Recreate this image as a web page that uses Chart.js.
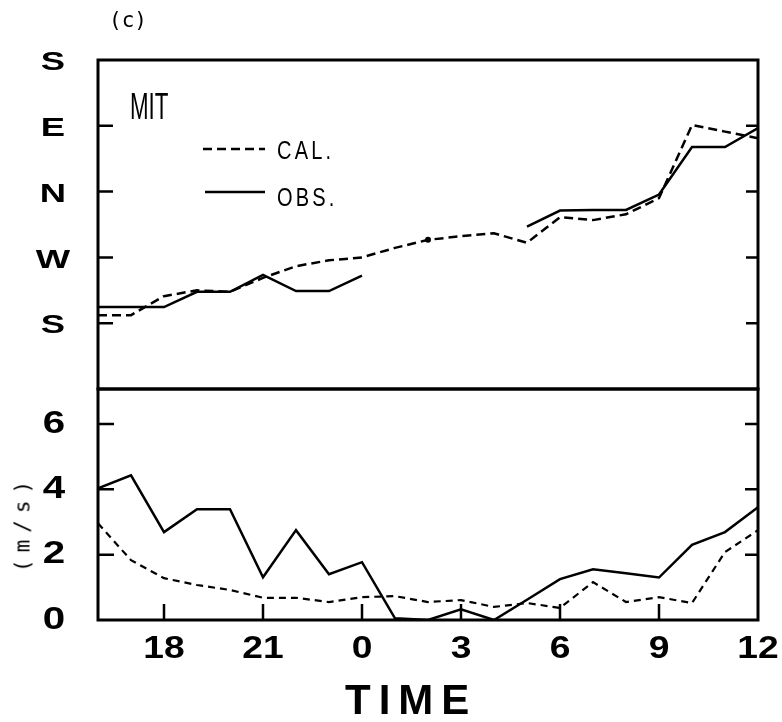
<!DOCTYPE html>
<html>
<head>
<meta charset="utf-8">
<script src="https://cdn.jsdelivr.net/npm/chart.js@4.4.1/dist/chart.umd.min.js"></script>
<style>
  body { margin: 0; background: #fff; }
  #wrap { position: relative; width: 782px; height: 722px; overflow: hidden; color: #000;
          font-family: "Liberation Sans", Arial, sans-serif; }
  canvas { position: absolute; left: 0; }
  .txt { position: absolute; white-space: nowrap; line-height: 1; }
  .mono { font-family: "DejaVu Sans Mono", "Liberation Mono", monospace; font-size: 21px; }
</style>
</head>
<body>
<div id="wrap">
  <canvas id="dirChart" width="782" height="395" style="top:0"></canvas>
  <canvas id="spdChart" width="782" height="342" style="top:380px"></canvas>

  <div class="txt mono" style="left:109px; top:10px;">(c)</div>
  <div class="txt" style="left:130px; top:89px; font-size:36px; transform:scaleX(0.62); transform-origin:0 0;">MIT</div>

  <svg style="position:absolute; left:0; top:0" width="300" height="220">
    <line x1="203" y1="149" x2="265" y2="149" stroke="#000" stroke-width="2.5" stroke-dasharray="9 5"/>
    <line x1="205" y1="192" x2="265" y2="192" stroke="#000" stroke-width="2.5"/>
  </svg>
  <div class="txt" style="left:277px; top:138px; font-size:25px; letter-spacing:4px; transform:scaleX(0.8); transform-origin:0 0;">CAL.</div>
  <div class="txt" style="left:277px; top:185px; font-size:25px; letter-spacing:4px; transform:scaleX(0.8); transform-origin:0 0;">OBS.</div>

  <div class="txt mono" style="left:23px; top:523px; letter-spacing:7px;
       transform:translate(-50%,-50%) rotate(-90deg);">(m/s)</div>
  <div class="txt" style="left:345px; top:679px; font-size:42px; font-weight:bold; letter-spacing:8px;">TIME</div>
</div>

<script>
// hours counted from 16 h of the first day, 24 = 0 h, 36 = 12 h next day
const hours = [16, 17, 18, 19, 20, 21, 22, 23, 24, 25, 26, 27, 28, 29, 30, 31, 32, 33, 34, 35, 36];

// wind direction in degrees (180 = S, 270 = W, 360 = N, 450 = E, 540 = S)
const calDir = [191, 191, 217, 225, 223, 242, 258, 266, 270, 283, 294, 299, 303, 290, 325, 321, 329, 351, 451, 442, 433];
const obsDir = [202, 202, 202, 223, 223, 246, 224, 224, 245, null, null, null, null, 312, 334, 335, 335, 356, 421, 421, 447];

// wind speed m/s
const calSpeed = [2.96, 1.83, 1.28, 1.07, 0.92, 0.68, 0.68, 0.55, 0.70, 0.73, 0.55, 0.61, 0.40, 0.52, 0.37, 1.16, 0.55, 0.70, 0.52, 2.08, 2.75];
const obsSpeed = [4.03, 4.43, 2.69, 3.39, 3.39, 1.31, 2.75, 1.40, 1.77, 0.05, 0, 0.33, 0, 0.62, 1.25, 1.55, 1.43, 1.30, 2.30, 2.69, 3.45];

const timeTicks = [18, 21, 24, 27, 30, 33, 36];
const dirTicks = [180, 270, 360, 450, 540];
const dirLabels = ["S", "W", "N", "E", "S"];
const speedTicks = [0, 2, 4, 6];

function toPoints(values) {
  return hours.map((h, i) => ({ x: h, y: values[i] }));
}

// box round the plot and the short inward tick marks
const frame = {
  id: "frame",
  afterDatasetsDraw(chart, args, opts) {
    const ctx = chart.ctx;
    const a = chart.chartArea;
    ctx.save();
    ctx.strokeStyle = "#000";
    ctx.lineWidth = 3;
    ctx.strokeRect(a.left, a.top, a.right - a.left, a.bottom - a.top);
    ctx.lineWidth = 2.5;
    ctx.beginPath();
    (opts.yTicks || []).forEach((v) => {
      const y = chart.scales.y.getPixelForValue(v);
      ctx.moveTo(a.left, y);
      ctx.lineTo(a.left + opts.len, y);
      ctx.moveTo(a.right, y);
      ctx.lineTo(a.right - opts.len + 3, y);
    });
    (opts.xTicks || []).forEach((v) => {
      const x = chart.scales.x.getPixelForValue(v);
      ctx.moveTo(x, a.bottom);
      ctx.lineTo(x, a.bottom - opts.len);
    });
    ctx.stroke();
    ctx.restore();
  },
};

// tick labels, drawn wide like the old plotter lettering
const wideLabels = {
  id: "wideLabels",
  afterDraw(chart, args, opts) {
    const ctx = chart.ctx;
    const a = chart.chartArea;
    (opts.items || []).forEach((item) => {
      const scale = chart.scales[item.axis];
      ctx.save();
      ctx.font = item.font;
      ctx.fillStyle = "#000";
      ctx.textAlign = "center";
      ctx.textBaseline = "middle";
      item.values.forEach((v, i) => {
        const p = scale.getPixelForValue(v);
        const x = scale.isHorizontal() ? p : a.left - item.offset;
        const y = scale.isHorizontal() ? a.bottom + item.offset : p + item.shift;
        ctx.save();
        ctx.translate(x, y);
        ctx.scale(item.stretch, 1);
        ctx.fillText(item.text(v, i), 0, 0);
        ctx.restore();
      });
      ctx.restore();
    });
  },
};

Chart.defaults.font.family = "'Liberation Sans', Arial, sans-serif";

new Chart("dirChart", {
  type: "line",
  data: {
    datasets: [
      {
        label: "CAL.",
        data: toPoints(calDir),
        borderColor: "#000",
        borderWidth: 2.5,
        borderDash: [9, 5],
        pointRadius: (c) => (c.dataIndex === 10 ? 3 : 0),
        pointBackgroundColor: "#000",
        pointBorderWidth: 0,
        tension: 0,
      },
      {
        label: "OBS.",
        data: toPoints(obsDir),
        borderColor: "#000",
        borderWidth: 2.5,
        pointRadius: 0,
        spanGaps: false,
        tension: 0,
      },
    ],
  },
  options: {
    responsive: false,
    animation: false,
    events: [],
    layout: { padding: { left: 98, right: 24, top: 60, bottom: 6 } },
    scales: {
      x: { type: "linear", min: 16, max: 36, display: false },
      y: { type: "linear", min: 90, max: 540, display: false },
    },
    plugins: {
      legend: { display: false },
      tooltip: { enabled: false },
      frame: { yTicks: dirTicks.slice(0, 4), len: 15 },
      wideLabels: {
        items: [
          {
            axis: "y",
            values: dirTicks,
            text: (v, i) => dirLabels[i],
            font: "bold 26px 'Liberation Sans', Arial, sans-serif",
            stretch: 1.4,
            offset: 45,
            shift: 3,
          },
        ],
      },
    },
  },
  plugins: [frame, wideLabels],
});

new Chart("spdChart", {
  type: "line",
  data: {
    datasets: [
      {
        label: "CAL.",
        data: toPoints(calSpeed),
        borderColor: "#000",
        borderWidth: 2.2,
        borderDash: [7, 5],
        pointRadius: 0,
        tension: 0,
      },
      {
        label: "OBS.",
        data: toPoints(obsSpeed),
        borderColor: "#000",
        borderWidth: 2.5,
        pointRadius: 0,
        tension: 0,
      },
    ],
  },
  options: {
    responsive: false,
    animation: false,
    events: [],
    layout: { padding: { left: 98, right: 24, top: 9, bottom: 102 } },
    scales: {
      x: { type: "linear", min: 16, max: 36, display: false },
      y: { type: "linear", min: 0, max: 7.07, display: false },
    },
    plugins: {
      legend: { display: false },
      tooltip: { enabled: false },
      frame: { yTicks: speedTicks.slice(1), xTicks: timeTicks.slice(0, 6), len: 16 },
      wideLabels: {
        items: [
          {
            axis: "y",
            values: speedTicks,
            text: (v) => String(v),
            font: "bold 31px 'Liberation Sans', Arial, sans-serif",
            stretch: 1.3,
            offset: 44,
            shift: 0,
          },
          {
            axis: "x",
            values: timeTicks,
            text: (v) => String(v % 24),
            font: "bold 31px 'Liberation Sans', Arial, sans-serif",
            stretch: 1.2,
            offset: 29,
            shift: 0,
          },
        ],
      },
    },
  },
  plugins: [frame, wideLabels],
});
</script>
</body>
</html>
